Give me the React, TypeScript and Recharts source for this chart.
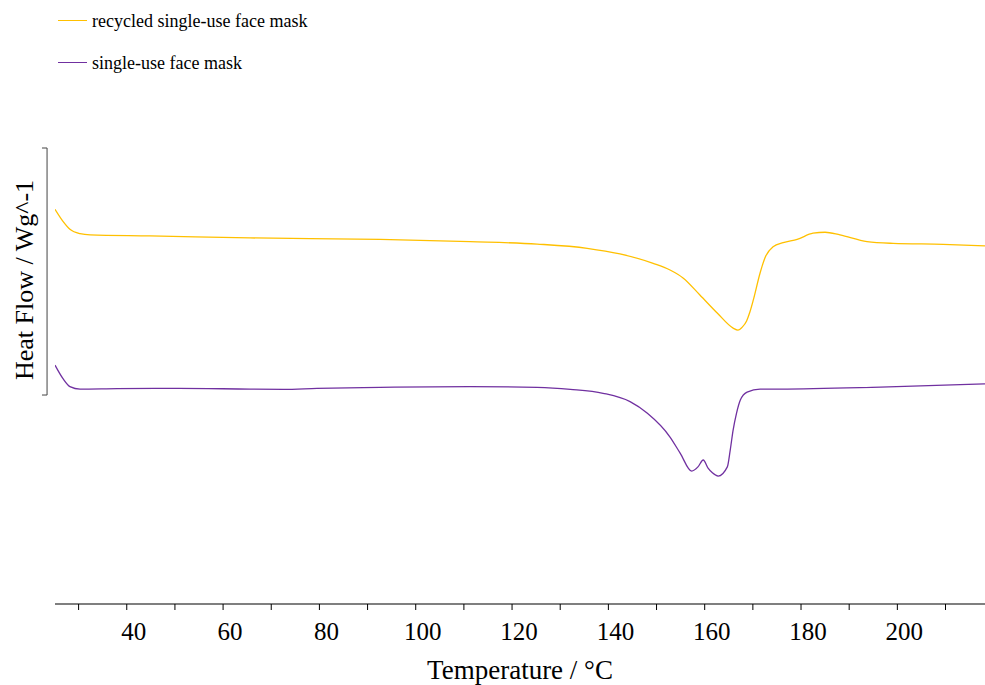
import { LineChart, Line, XAxis, YAxis, ReferenceLine, Legend } from "recharts";

// DSC curves, temperature in °C, heat flow in W/g (arbitrary offset)
const recycledTemp = [25.1, 26.8, 28.2, 30.3, 32.4, 44.8, 65.6, 92.6, 111.3, 125.2, 135.6, 142.4, 149.3, 152.8, 155.5, 159.0, 162.6, 165.9, 166.9, 167.8, 168.7, 169.4, 170.1, 171.5, 172.5, 174.2, 176.3, 179.2, 182.5, 185.0, 188.1, 193.7, 199.1, 209.5, 218.2];
const recycledHeat = [0.752, 0.702, 0.671, 0.653, 0.648, 0.644, 0.636, 0.63, 0.621, 0.611, 0.594, 0.571, 0.533, 0.506, 0.474, 0.405, 0.332, 0.271, 0.263, 0.275, 0.3, 0.337, 0.385, 0.494, 0.555, 0.6, 0.617, 0.63, 0.655, 0.659, 0.648, 0.621, 0.614, 0.61, 0.604];

const maskTemp = [25.1, 26.8, 28.2, 30.3, 38.0, 50.7, 65.6, 72.5, 79.5, 92.6, 111.3, 125.2, 132.1, 138.9, 144.5, 148.1, 152.8, 154.9, 157.3, 158.6, 159.7, 160.7, 161.6, 162.8, 164.7, 165.3, 165.9, 166.6, 167.4, 168.8, 171.5, 175.7, 196.5, 218.2];
const maskHeat = [0.121, 0.065, 0.034, 0.024, 0.026, 0.027, 0.024, 0.023, 0.027, 0.031, 0.034, 0.031, 0.023, 0.007, -0.027, -0.074, -0.17, -0.235, -0.308, -0.291, -0.263, -0.296, -0.315, -0.328, -0.291, -0.223, -0.142, -0.074, -0.02, 0.012, 0.024, 0.024, 0.032, 0.045];

const seriesNames = ["recycled single-use face mask", "single-use face mask"];
const seriesColors = ["#FFC000", "#7030A0"];

const xTicks = [30, 40, 50, 60, 70, 80, 90, 100, 110, 120, 130, 140, 150, 160, 170, 180, 190, 200, 210];

const recycledData = recycledTemp.map((t, i) => ({ t, hf: recycledHeat[i] }));
const maskData = maskTemp.map((t, i) => ({ t, hf: maskHeat[i] }));

const font = '"Liberation Serif", "Times New Roman", serif';

const renderLegend = (props: any) => {
  const items = props.payload || [];
  return (
    <svg width={400} height={100} style={{ display: "block" }}>
      {items.map((item: any, i: number) => {
        const y = 20.5 + i * 42;
        return (
          <g key={item.value}>
            <line x1={58} x2={87} y1={y} y2={y} stroke={item.color} strokeWidth={1} />
            <text x={92} y={y + 6.5} fontSize={18} fontFamily={font} fill="#000">
              {item.value}
            </text>
          </g>
        );
      })}
    </svg>
  );
};

// only every other tick is labelled, labels sit a bit right of the tick
const renderXTick = (props: any) => {
  const { x, y, payload } = props;
  const v = payload.value;
  if (v % 20 !== 0) return <g />;
  return (
    <text
      x={x + 7}
      y={y + 18}
      textAnchor="middle"
      fill="#000"
      style={{ fontFamily: font, fontSize: 25, fontWeight: 400 }}
    >
      {String(v)}
    </text>
  );
};

const renderYLabel = (props: any) => {
  const vb = props.viewBox || { x: 0, y: 0 };
  const cx = vb.x + 33;
  const cy = vb.y + 132;
  return (
    <text
      x={cx}
      y={cy}
      transform={`rotate(-90, ${cx}, ${cy})`}
      textAnchor="middle"
      fontSize={26}
      fontFamily={font}
      fill="#000"
    >
      Heat Flow / Wg^-1
    </text>
  );
};

export default function App() {
  return (
    <div style={{ position: "absolute", left: 0, top: 0, fontFamily: font }}>
      <LineChart width={985} height={685} margin={{ top: 48, right: 0, bottom: 6, left: 0 }}>
        <Legend
          verticalAlign="top"
          align="left"
          layout="horizontal"
          content={renderLegend}
          wrapperStyle={{ top: 0, left: 0, width: 400, height: 100 }}
        />
        <XAxis
          dataKey="t"
          type="number"
          domain={[25.1, 218.2]}
          ticks={xTicks}
          interval={0}
          tickSize={6}
          tickMargin={12}
          height={75}
          axisLine={{ stroke: "#000", strokeWidth: 1.2 }}
          tickLine={{ stroke: "#000" }}
          tick={renderXTick}
          allowDataOverflow
          label={{ value: "Temperature / °C", position: "insideBottom", offset: 0, fontSize: 27, fill: "#000", fontFamily: font }}
        />
        <YAxis
          type="number"
          domain={[-0.846, 1.0]}
          width={55}
          axisLine={false}
          tickLine={false}
          tick={false}
          allowDataOverflow
          label={renderYLabel}
        />
        <ReferenceLine segment={[{ x: 23.45, y: 0 }, { x: 23.45, y: 1 }]} stroke="#444" ifOverflow="visible" />
        <ReferenceLine segment={[{ x: 22.4, y: 1 }, { x: 23.45, y: 1 }]} stroke="#444" ifOverflow="visible" />
        <ReferenceLine segment={[{ x: 22.4, y: 0 }, { x: 23.45, y: 0 }]} stroke="#444" ifOverflow="visible" />
        <Line
          data={recycledData}
          dataKey="hf"
          name={seriesNames[0]}
          type="monotone"
          stroke={seriesColors[0]}
          strokeWidth={1.3}
          dot={false}
          activeDot={false}
          isAnimationActive={false}
        />
        <Line
          data={maskData}
          dataKey="hf"
          name={seriesNames[1]}
          type="monotone"
          stroke={seriesColors[1]}
          strokeWidth={1.3}
          dot={false}
          activeDot={false}
          isAnimationActive={false}
        />
      </LineChart>
    </div>
  );
}
